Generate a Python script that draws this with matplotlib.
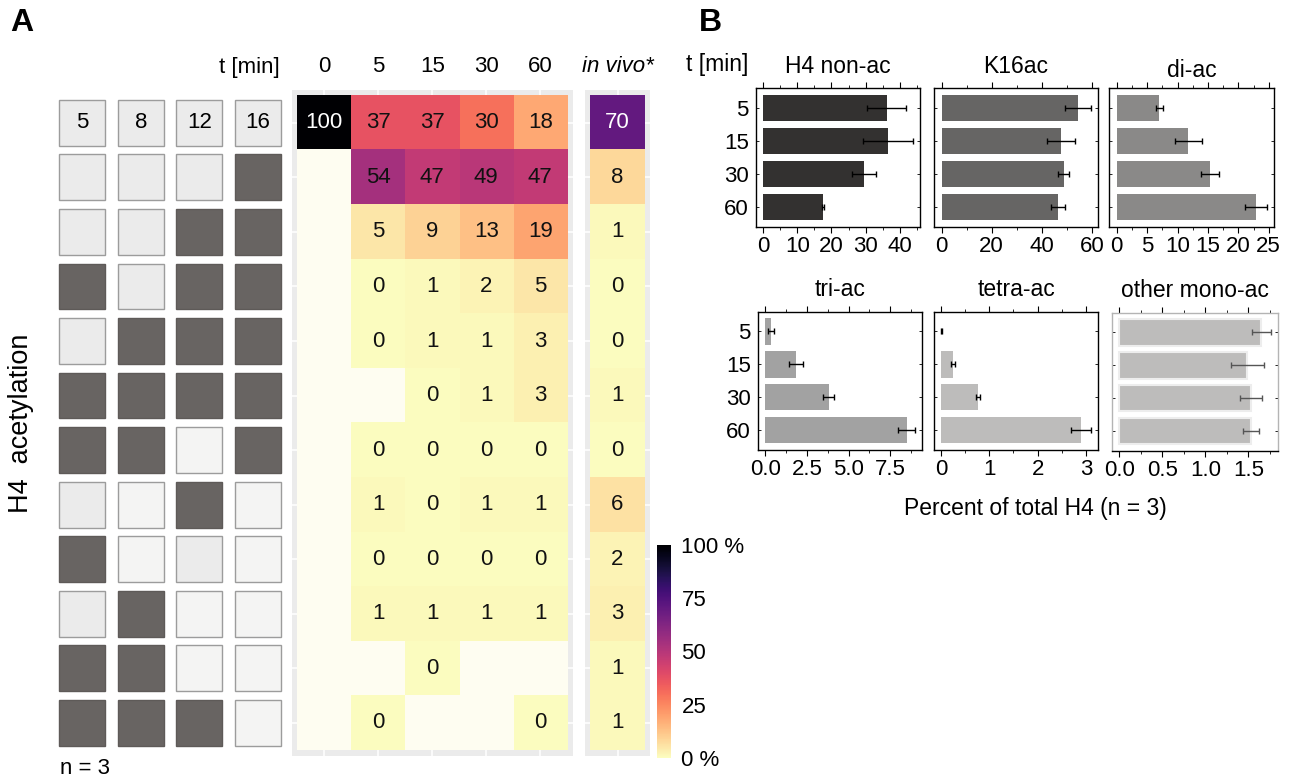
import numpy as np
import matplotlib as mpl
mpl.use("Agg")
import matplotlib.pyplot as plt
from matplotlib.patches import Rectangle
from matplotlib.colors import Normalize
from matplotlib.cm import ScalarMappable

plt.rcParams["font.family"] = ["Liberation Sans", "DejaVu Sans"]

# ---------------- data ----------------
sites = ["5", "8", "12", "16"]
# acetylation state of lysines K5, K8, K12, K16 for each heatmap row below the header (1 = acetylated)
pattern = [
    [0, 0, 0, 1],
    [0, 0, 1, 1],
    [1, 0, 1, 1],
    [0, 1, 1, 1],
    [1, 1, 1, 1],
    [1, 1, 0, 1],
    [0, 0, 1, 0],
    [1, 0, 0, 0],
    [0, 1, 0, 0],
    [1, 1, 0, 0],
    [1, 1, 1, 0],
]

times = ["0", "5", "15", "30", "60"]
nan = np.nan
in_vitro = np.array([
    [100, 37, 37, 30, 18],
    [nan, 54, 47, 49, 47],
    [nan, 5, 9, 13, 19],
    [nan, 0, 1, 2, 5],
    [nan, 0, 1, 1, 3],
    [nan, nan, 0, 1, 3],
    [nan, 0, 0, 0, 0],
    [nan, 1, 0, 1, 1],
    [nan, 0, 0, 0, 0],
    [nan, 1, 1, 1, 1],
    [nan, nan, 0, nan, nan],
    [nan, 0, nan, nan, 0],
])
in_vivo = np.array([70, 8, 1, 0, 0, 1, 0, 6, 2, 3, 1, 1], dtype=float)

bar_times = ["5", "15", "30", "60"]
h4_nonac = [36.1, 36.5, 29.4, 17.5]
h4_nonac_err = [5.6, 7.2, 3.5, 0.4]
k16ac = [54.4, 47.7, 48.8, 46.4]
k16ac_err = [5.3, 5.5, 2.2, 2.7]
di_ac = [7.0, 11.8, 15.3, 22.9]
di_ac_err = [0.6, 2.2, 1.45, 1.8]
tri_ac = [0.34, 1.84, 3.80, 8.5]
tri_ac_err = [0.19, 0.40, 0.31, 0.51]
tetra_ac = [0.01, 0.25, 0.76, 2.90]
tetra_ac_err = [0.01, 0.045, 0.04, 0.21]
other_mono = [1.65, 1.49, 1.53, 1.53]
other_mono_err = [0.11, 0.19, 0.13, 0.09]

# ---------------- layout helpers ----------------
W, H = 1300, 779
fig = plt.figure(figsize=(13, 7.79), dpi=100)


def px_axes(x0, y0, x1, y1):
    return fig.add_axes([x0 / W, 1 - y1 / H, (x1 - x0) / W, (y1 - y0) / H])


def px_text(x, y, s, **kw):
    fig.text(x / W, 1 - y / H, s, **kw)


FS = 16
cmap = mpl.colormaps["magma_r"].with_extremes(bad="#FEFDF1")
norm = Normalize(0, 100)
nrows = in_vitro.shape[0]

# ---------------- panel A: acetylation pattern squares ----------------
ax_sq = px_axes(53, 90, 287, 755.7)
ax_sq.set_xlim(-0.5, 3.5)
ax_sq.set_ylim(nrows - 0.4, -0.6)
ax_sq.axis("off")
sq_w, sq_h = 0.786, 0.84
pale, paler, dark = "#EBEBEB", "#F4F4F3", "#686462"
paler_cells = {(6, 2), (7, 1), (7, 3), (8, 1), (8, 3), (9, 2), (9, 3),
               (10, 2), (10, 3), (11, 3)}
for j, s in enumerate(sites):
    ax_sq.add_patch(Rectangle((j - sq_w / 2, -sq_h / 2), sq_w, sq_h,
                              facecolor=pale, edgecolor="#9C9C9C", lw=1.0))
    ax_sq.text(j, 0, s, ha="center", va="center", fontsize=FS)
for i, row in enumerate(pattern, start=1):
    for j, a in enumerate(row):
        if a:
            fc, ec = dark, "#5E5A58"
        else:
            fc, ec = (paler if (i, j) in paler_cells else pale), "#9C9C9C"
        ax_sq.add_patch(Rectangle((j - sq_w / 2, i - sq_h / 2), sq_w, sq_h,
                                  facecolor=fc, edgecolor=ec, lw=1.0))


def heat_axes(box, data, labels, italic=False):
    ax = px_axes(*box)
    ncol = data.shape[1]
    ax.set_facecolor("#EBEBEB")
    ax.imshow(np.ma.masked_invalid(data), cmap=cmap, norm=norm, aspect="auto",
              interpolation="nearest", extent=(-0.5, ncol - 0.5, nrows - 0.5, -0.5),
              zorder=1)
    ax.set_xlim(-0.6, ncol - 0.4)
    ax.set_ylim(nrows - 0.4, -0.6)
    ax.set_xticks(range(ncol))
    ax.set_yticks(range(nrows))
    ax.set_axisbelow(True)
    ax.grid(color="white", lw=1.1, zorder=0.5)
    ax.xaxis.tick_top()
    ax.set_xticklabels(labels, fontsize=FS, style="italic" if italic else "normal")
    ax.set_yticklabels([])
    ax.tick_params(length=0, pad=9)
    for sp in ax.spines.values():
        sp.set_visible(False)
    for i in range(nrows):
        for j in range(ncol):
            v = data[i, j]
            if np.isnan(v):
                continue
            ax.text(j, i, f"{v:.0f}", ha="center", va="center", fontsize=FS,
                    color="white" if v >= 60 else "#111111", zorder=3)
    return ax


ax_hm = heat_axes((291.7, 90, 572.7, 755.7), in_vitro, times)
ax_iv = heat_axes((585, 90, 650, 755.7), in_vivo[:, None], ["in vivo*"], italic=True)

# colour scale
cax = px_axes(656.7, 545, 671, 757.7)
cb = fig.colorbar(ScalarMappable(norm=norm, cmap=cmap), cax=cax)
cb.outline.set_visible(False)
cb.set_ticks([0, 25, 50, 75, 100])
cb.set_ticklabels(["0 %", "25", "50", "75", "100 %"])
cax.tick_params(length=0, pad=7.5, labelsize=FS)

px_text(249.5, 67, "t [min]", ha="center", va="center", fontsize=FS)
px_text(21, 423, "H4  acetylation", rotation=90, ha="center", va="center", fontsize=19.5)
px_text(60, 769, "n = 3", ha="left", va="center", fontsize=FS)
px_text(10, 23, "A", ha="left", va="center", fontsize=23, fontweight="bold")

# ---------------- panel B: bar panels ----------------


def bar_panel(box, vals, errs, color, title, ticks, ticklabels, xlim, minor,
              show_y=False, title_pad=11.0, frame="black", ecolor="black",
              bar_edge="none"):
    ax = px_axes(*box)
    y = np.arange(len(bar_times))
    ax.barh(y, vals, height=0.8, color=color, edgecolor=bar_edge, lw=1.5, zorder=2)
    ax.errorbar(vals, y, xerr=errs, fmt="none", ecolor=ecolor, elinewidth=1.0,
                capsize=2.4, capthick=1.0, zorder=3)
    ax.set_ylim(len(bar_times) - 0.4, -0.6)
    ax.set_xlim(*xlim)
    ax.set_xticks(ticks)
    ax.set_xticklabels(ticklabels, fontsize=FS)
    ax.set_xticks(minor, minor=True)
    ax.set_yticks(y)
    if show_y:
        ax.set_yticklabels(bar_times, fontsize=FS)
    else:
        ax.set_yticklabels([])
    ax.tick_params(axis="x", which="major", direction="out", length=4.5, width=0.8, pad=2)
    ax.tick_params(axis="x", which="minor", direction="out", length=2.5, width=0.6)
    ax.tick_params(axis="x", which="both", top=True)
    ax.tick_params(axis="y", direction="in", length=2.5, width=0.6, right=True, pad=5)
    for sp in ax.spines.values():
        sp.set_color(frame)
        sp.set_linewidth(1.0)
    ax.spines["bottom"].set_color("black")
    ax.set_title(title, fontsize=16.5, pad=title_pad)
    return ax


bar_panel((755.7, 88.3, 920, 227), h4_nonac, h4_nonac_err, "#333130", "H4 non-ac",
          [0, 10, 20, 30, 40], ["0", "10", "20", "30", "40"], (-2.13, 45.84),
          [5, 15, 25, 35, 45], show_y=True)
bar_panel((933.7, 88.3, 1098.3, 227), k16ac, k16ac_err, "#666564", "K16ac",
          [0, 20, 40, 60], ["0", "20", "40", "60"], (-3.2, 62.6), [10, 30, 50])
bar_panel((1109.3, 88.3, 1274, 227), di_ac, di_ac_err, "#8A8988", "di-ac",
          [0, 5, 10, 15, 20, 25], ["0", "5", "10", "15", "20", "25"], (-1.22, 25.87),
          [2.5, 7.5, 12.5, 17.5, 22.5], title_pad=8.0)
bar_panel((757.7, 311.7, 922.3, 450), tri_ac, tri_ac_err, "#A2A2A2", "tri-ac",
          [0, 2.5, 5, 7.5], ["0.0", "2.5", "5.0", "7.5"], (-0.456, 9.42),
          [1.25, 3.75, 6.25, 8.75], show_y=True)
bar_panel((933.7, 311.7, 1098.3, 450), tetra_ac, tetra_ac_err, "#BDBCBB", "tetra-ac",
          [0, 1, 2, 3], ["0", "1", "2", "3"], (-0.151, 3.255), [0.5, 1.5, 2.5])
bar_panel((1112.3, 312.7, 1277.7, 451), other_mono, other_mono_err, "#BDBCBB",
          "other mono-ac", [0, 0.5, 1.0, 1.5], ["0.0", "0.5", "1.0", "1.5"],
          (-0.081, 1.842), [0.25, 0.75, 1.25, 1.75], frame="#B4B4B4",
          ecolor="#555555", bar_edge="#EDEDED")

px_text(748, 65, "t [min]", ha="right", va="center", fontsize=16.5)
px_text(1035, 508, "Percent of total H4 (n = 3)", ha="center", va="center", fontsize=16.5)
px_text(699, 23, "B", ha="left", va="center", fontsize=23, fontweight="bold")

fig.savefig("out.png", dpi=100)
